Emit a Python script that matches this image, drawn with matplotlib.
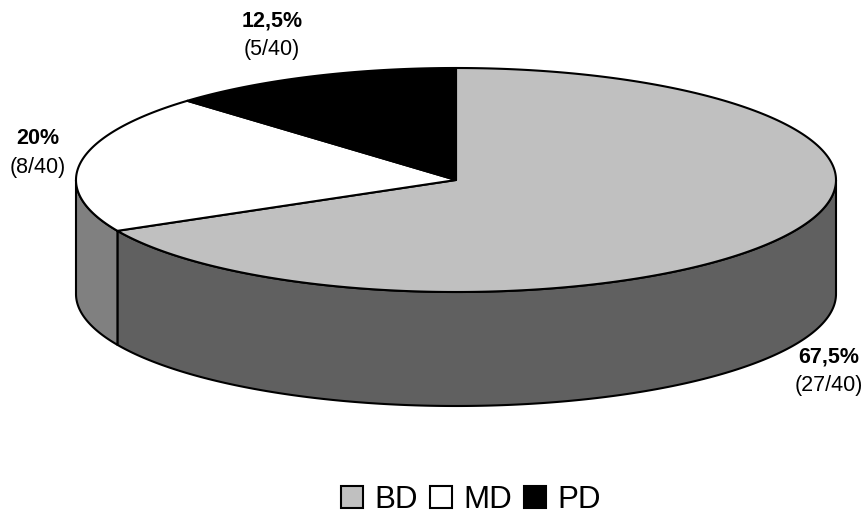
import numpy as np
import matplotlib.pyplot as plt
from matplotlib.patches import Polygon, Patch

plt.rcParams['font.family'] = ['Liberation Sans', 'DejaVu Sans']

# Datos
categorias = ['BD', 'MD', 'PD']
conteos = [27, 8, 5]
total = 40
colores_top = ['#c0c0c0', '#ffffff', '#000000']
colores_lado = ['#606060', '#808080', '#000000']

# Geometria de la torta 3D (en pixeles)
cx, cy = 456, 180
a, b = 380, 112
prof = 114

fig = plt.figure(figsize=(8.62, 5.17), dpi=100)
ax = fig.add_axes([0, 0, 1, 1])
ax.set_xlim(0, 862)
ax.set_ylim(517, 0)
ax.axis('off')


def punto(t, dy=0):
    t = np.radians(t)
    return cx + a * np.cos(t), cy - b * np.sin(t) + dy


# angulos: empieza a las 12 y gira en sentido horario
angulos = []
hi = 90.0
for c in conteos:
    lo = hi - 360.0 * c / total
    angulos.append((lo, hi))
    hi = lo

# paredes laterales (solo la mitad frontal)
for (lo, hi), col in zip(angulos, colores_lado):
    for f0, f1 in [(-180, 0), (180, 360), (-540, -360)]:
        t0, t1 = max(lo, f0), min(hi, f1)
        if t1 <= t0:
            continue
        ts = np.linspace(t0, t1, 200)
        arriba = [punto(t) for t in ts]
        abajo = [punto(t, prof) for t in ts[::-1]]
        ax.add_patch(Polygon(arriba + abajo, closed=True, facecolor=col,
                             edgecolor='black', lw=1.5, joinstyle='round'))

# cara superior
for (lo, hi), col in zip(angulos, colores_top):
    ts = np.linspace(lo, hi, 300)
    pts = [(cx, cy)] + [punto(t) for t in ts]
    ax.add_patch(Polygon(pts, closed=True, facecolor=col,
                         edgecolor='black', lw=1.5, joinstyle='round'))

# etiquetas
pos_etiquetas = [(829, 357), (38, 139), (272, 21)]
for (x, y), c in zip(pos_etiquetas, conteos):
    pct = f"{100 * c / total:g}".replace('.', ',') + '%'
    ax.text(x, y, pct, ha='center', va='center', fontsize=15.5,
            fontweight='bold')
    ax.text(x, y + 29, f"({c}/{total})", ha='center', va='center',
            fontsize=15.5)

handles = [Patch(facecolor=c, edgecolor='black', lw=1.5) for c in colores_top]
fig.legend(handles, categorias, loc='center', bbox_to_anchor=(471 / 862, 1 - 500 / 517),
           ncol=3, frameon=False, fontsize=22.5, handlelength=0.7,
           handleheight=0.7, handletextpad=0.35, columnspacing=0.4)

fig.savefig('out.png', dpi=100)
